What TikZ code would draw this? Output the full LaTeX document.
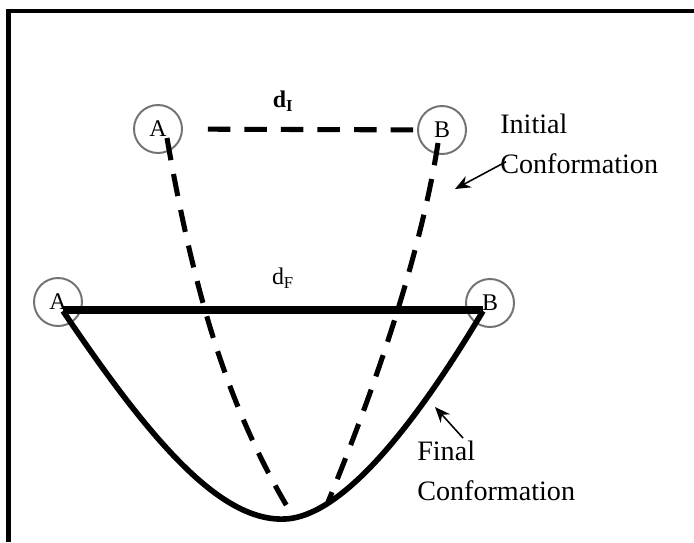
\documentclass[tikz,border=0pt]{standalone}
\usepackage{fontspec}
\setmainfont{Liberation Serif}
\usetikzlibrary{arrows.meta,calc}

\begin{document}
\begin{tikzpicture}[x=0.025cm, y=-0.025cm,
  endpt/.style={circle, draw=black!55, line width=1.4pt, minimum size=1.2cm, inner sep=0pt, font=\fontsize{17}{17}\selectfont},
  dashline/.style={line width=3.6pt, dash pattern=on 16pt off 10pt},
  chainline/.style={line width=4pt},
  lbl/.style={align=left, inner sep=0pt, font=\fontsize{20}{28}\selectfont},
  pointer/.style={-{Stealth[length=11pt,width=9pt]}, line width=1.1pt}]
\useasboundingbox (0,0) rectangle (694,542);
% Frame
\draw[line width=3pt] (694,11) -- (8.5,11) -- (8.5,542);
% Initial conformation
\node[endpt] (iA) at (158,129) {A};
\node[endpt] (iB) at (442,130) {B};
\node[font=\fontsize{17}{17}\selectfont] (dI) at (283,101) {\textbf{d}\textsubscript{\textbf{I}}};
\coordinate (botA) at (288,508);
\coordinate (botB) at (328,502);
\draw[dashline, shorten <=0.62cm] (iA) -- (iB);
\draw[dashline] ([shift={(9,9)}]iA.center) .. controls (195,300) and (230,410) .. (botA);
\draw[dashline] ([shift={(-4,13)}]iB.center) .. controls (420,260) and (370,400) .. (botB);
% Final conformation
\node[endpt] (fA) at (58,302) {A};
\node[endpt] (fB) at (490,303) {B};
\node[font=\fontsize{17}{17}\selectfont] (dF) at (283,278) {d\textsubscript{F}};
\draw[line width=5.5pt] ([shift={(5,8)}]fA.center) -- ([shift={(-7,7)}]fB.center);
\draw[chainline] ([shift={(5,9)}]fA.center) .. controls (150,440) and (220,522) .. (285,519)
  .. controls (350,516) and (430,400) .. ([shift={(-7,8)}]fB.center);
% Labels
\node[lbl, anchor=north west] (initlbl) at (500,114) {Initial\\Conformation};
\node[lbl, anchor=north west] (finallbl) at (417,441) {Final\\Conformation};
\coordinate (initTip) at (455,189);
\coordinate (finalTip) at (435,407);
\draw[pointer] ($(initlbl.south west)+(6,-12)$) -- (initTip);
\draw[pointer] ($(finallbl.north west)+(46,-3)$) -- (finalTip);
\end{tikzpicture}
\end{document}
